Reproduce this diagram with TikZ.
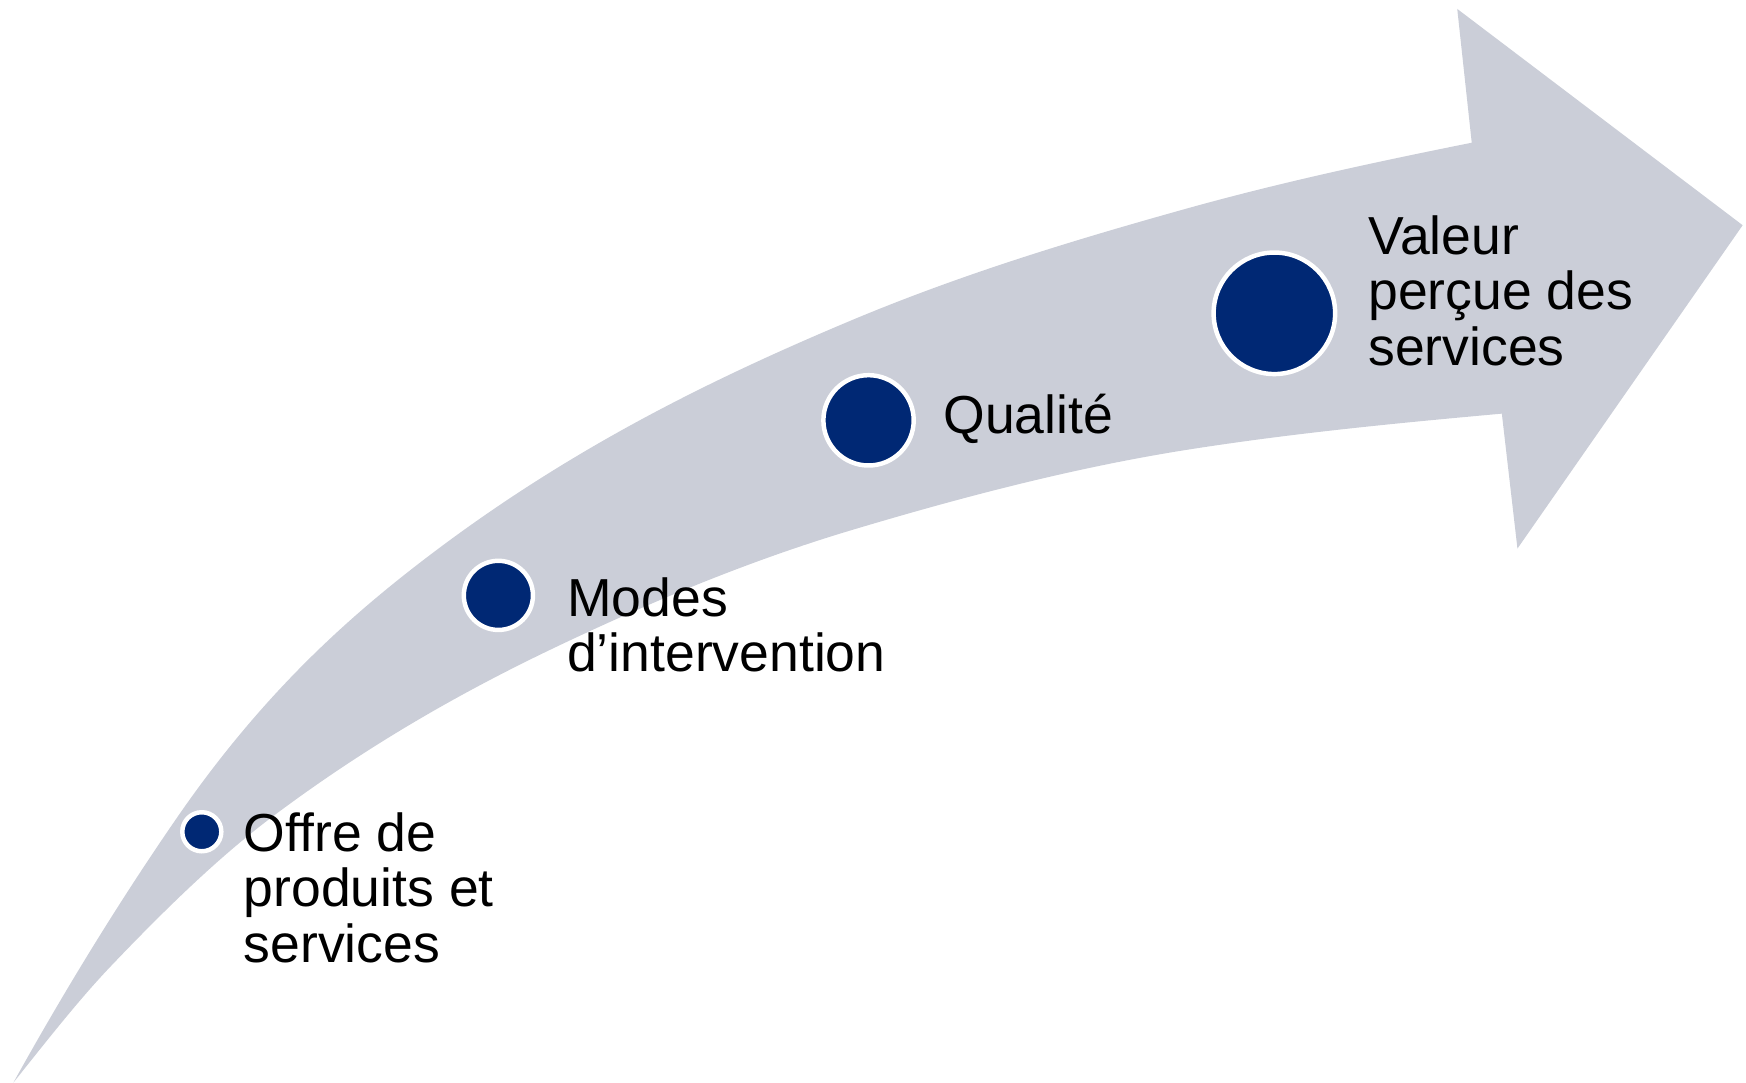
\documentclass[tikz,border=0pt]{standalone}
\usepackage{fontspec}
\setmainfont{Liberation Sans}
\definecolor{arrowgrey}{RGB}{203,206,216}
\definecolor{dotblue}{RGB}{0,40,116}
\begin{document}
\begin{tikzpicture}[x=1pt,y=-1pt,
  dot/.style={circle,fill=dotblue,draw=white,line width=4pt,inner sep=0pt,minimum size=#1},
  lbl/.style={anchor=base west,align=left,inner sep=0pt,font=\fontsize{48}{49.6}\selectfont,text=black}]
\useasboundingbox (0,0) rectangle (1566,971);
% curved arrow body and head
\fill[arrowgrey]
  (12,971)
  .. controls (61,882.8) and (110,804) .. (159,733)
  .. controls (236.7,620.4) and (314.3,551.3) .. (392,493)
  .. controls (515.3,400.5) and (638.7,339.8) .. (762,288)
  .. controls (861.7,246.1) and (961.3,215.9) .. (1061,188)
  .. controls (1147.3,163.8) and (1233.7,145.3) .. (1320,128)
  -- (1307,8) -- (1563,202) -- (1361,492) -- (1347,371)
  .. controls (1251.7,379.6) and (1156.3,388.8) .. (1061,404)
  .. controls (961.3,420) and (861.7,446.1) .. (762,476)
  .. controls (672.3,502.9) and (582.7,540) .. (493,583)
  .. controls (410.3,622.7) and (327.7,670) .. (245,732)
  .. controls (196.3,768.5) and (147.7,815.9) .. (99,867)
  .. controls (70,897.5) and (41,934.7) .. (12,971)
  -- cycle;
\node[dot=35pt]  (d1) at (181,746) {};
\node[dot=62pt]  (d2) at (447,534) {};
\node[dot=81pt]  (d3) at (779,377) {};
\node[dot=109pt] (d4) at (1143,281) {};
\node[lbl] (t1) at (218.5,863) {Offre de\\produits et\\services};
\node[lbl] (t2) at (508.5,602.5) {Modes\\d’intervention};
\node[lbl] (t3) at (846,388.6) {Qualité};
\node[lbl] (t4) at (1227,327.5) {Valeur\\perçue des\\services};
\end{tikzpicture}
\end{document}
